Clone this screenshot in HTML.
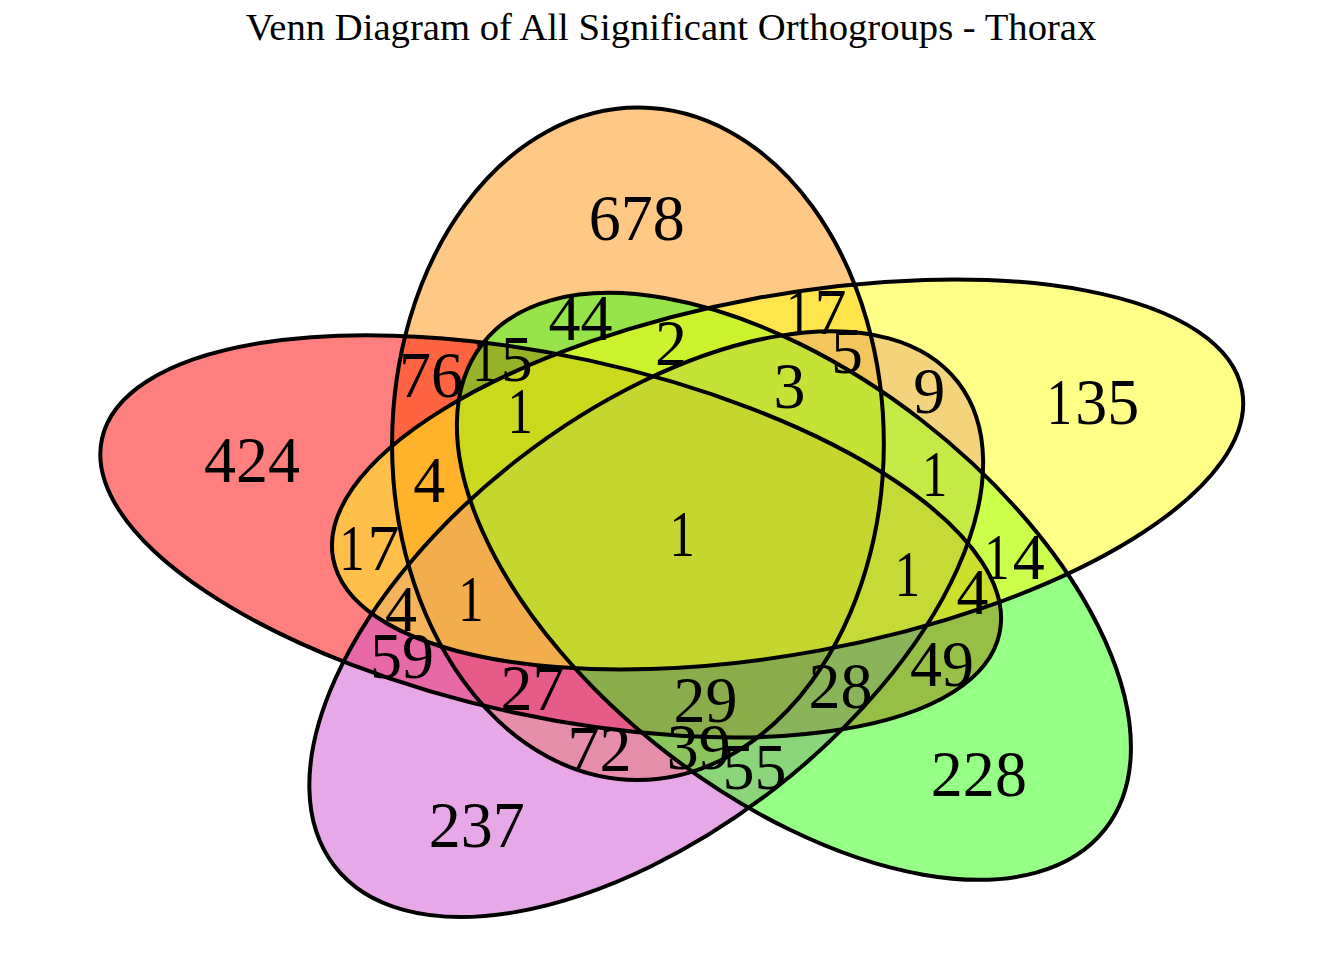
<!DOCTYPE html>
<html><head><meta charset="utf-8"><style>
html,body{margin:0;padding:0;background:#fff;}
svg{display:block;}
text{font-family:"Liberation Serif",serif;}
</style></head><body>
<svg width="1344" height="960" viewBox="0 0 1344 960">
<rect width="1344" height="960" fill="#fff"/>
<text x="671" y="40" font-size="38.67" text-anchor="middle">Venn Diagram of All Significant Orthogroups - Thorax</text>
<ellipse cx="637.95" cy="443.84" rx="336.22" ry="245.88" transform="rotate(90.136 637.95 443.84)" fill="#ff910b" fill-opacity="0.5" stroke="none"/>
<ellipse cx="550.69" cy="536.33" rx="459.19" ry="180.02" transform="rotate(12.240 550.69 536.33)" fill="#ff0000" fill-opacity="0.5" stroke="none"/>
<ellipse cx="646.24" cy="624.12" rx="394.59" ry="208.77" transform="rotate(-37.842 646.24 624.12)" fill="#cd51cd" fill-opacity="0.5" stroke="none"/>
<ellipse cx="793.90" cy="586.35" rx="394.74" ry="209.47" transform="rotate(37.893 793.90 586.35)" fill="#2dff0d" fill-opacity="0.5" stroke="none"/>
<ellipse cx="787.57" cy="474.42" rx="462.15" ry="178.96" transform="rotate(-10.468 787.57 474.42)" fill="#ffff11" fill-opacity="0.5" stroke="none"/>
<ellipse cx="637.95" cy="443.84" rx="336.22" ry="245.88" transform="rotate(90.136 637.95 443.84)" fill="none" stroke="#000" stroke-width="4"/>
<ellipse cx="550.69" cy="536.33" rx="459.19" ry="180.02" transform="rotate(12.240 550.69 536.33)" fill="none" stroke="#000" stroke-width="4"/>
<ellipse cx="646.24" cy="624.12" rx="394.59" ry="208.77" transform="rotate(-37.842 646.24 624.12)" fill="none" stroke="#000" stroke-width="4"/>
<ellipse cx="793.90" cy="586.35" rx="394.74" ry="209.47" transform="rotate(37.893 793.90 586.35)" fill="none" stroke="#000" stroke-width="4"/>
<ellipse cx="787.57" cy="474.42" rx="462.15" ry="178.96" transform="rotate(-10.468 787.57 474.42)" fill="none" stroke="#000" stroke-width="4"/>
<g font-size="64.0">
<text transform="translate(0 240.00) scale(1 1.025) translate(0 -240.00)" x="588.75" y="240.00">6</text><text transform="translate(0 240.00) scale(1 1.025) translate(0 -240.00)" x="620.75" y="240.00">7</text><text transform="translate(0 240.00) scale(1 1.025) translate(0 -240.00)" x="652.75" y="240.00">8</text>
<text transform="translate(1060.40 424.00) scale(0.79 1.025) translate(-1060.40 -424.00)" x="1043.25" y="424.00">1</text><text transform="translate(0 424.00) scale(1 1.025) translate(0 -424.00)" x="1075.25" y="424.00">3</text><text transform="translate(0 424.00) scale(1 1.025) translate(0 -424.00)" x="1107.25" y="424.00">5</text>
<text transform="translate(0 482.50) scale(1 1.025) translate(0 -482.50)" x="204.12" y="482.50">4</text><text transform="translate(0 482.50) scale(1 1.025) translate(0 -482.50)" x="236.12" y="482.50">2</text><text transform="translate(0 482.50) scale(1 1.025) translate(0 -482.50)" x="268.12" y="482.50">4</text>
<text transform="translate(0 796.50) scale(1 1.025) translate(0 -796.50)" x="930.88" y="796.50">2</text><text transform="translate(0 796.50) scale(1 1.025) translate(0 -796.50)" x="962.88" y="796.50">2</text><text transform="translate(0 796.50) scale(1 1.025) translate(0 -796.50)" x="994.88" y="796.50">8</text>
<text transform="translate(0 847.10) scale(1 1.025) translate(0 -847.10)" x="428.75" y="847.10">2</text><text transform="translate(0 847.10) scale(1 1.025) translate(0 -847.10)" x="460.75" y="847.10">3</text><text transform="translate(0 847.10) scale(1 1.025) translate(0 -847.10)" x="492.75" y="847.10">7</text>
<text transform="translate(0 340.00) scale(1 1.025) translate(0 -340.00)" x="548.62" y="340.00">4</text><text transform="translate(0 340.00) scale(1 1.025) translate(0 -340.00)" x="580.62" y="340.00">4</text>
<text transform="translate(799.65 334.00) scale(0.79 1.025) translate(-799.65 -334.00)" x="782.50" y="334.00">1</text><text transform="translate(0 334.00) scale(1 1.025) translate(0 -334.00)" x="814.50" y="334.00">7</text>
<text transform="translate(0 397.00) scale(1 1.025) translate(0 -397.00)" x="399.00" y="397.00">7</text><text transform="translate(0 397.00) scale(1 1.025) translate(0 -397.00)" x="431.00" y="397.00">6</text>
<text transform="translate(485.90 381.00) scale(0.79 1.025) translate(-485.90 -381.00)" x="468.75" y="381.00">1</text><text transform="translate(0 381.00) scale(1 1.025) translate(0 -381.00)" x="500.75" y="381.00">5</text>
<text transform="translate(0 365.50) scale(1 1.025) translate(0 -365.50)" x="654.95" y="365.50">2</text>
<text transform="translate(0 372.75) scale(1 1.025) translate(0 -372.75)" x="831.00" y="372.75">5</text>
<text transform="translate(0 413.00) scale(1 1.025) translate(0 -413.00)" x="913.25" y="413.00">9</text>
<text transform="translate(0 408.00) scale(1 1.025) translate(0 -408.00)" x="773.50" y="408.00">3</text>
<text transform="translate(521.15 432.80) scale(0.79 1.025) translate(-521.15 -432.80)" x="504.00" y="432.80">1</text>
<text transform="translate(0 501.60) scale(1 1.025) translate(0 -501.60)" x="413.23" y="501.60">4</text>
<text transform="translate(935.65 496.00) scale(0.79 1.025) translate(-935.65 -496.00)" x="918.50" y="496.00">1</text>
<text transform="translate(352.77 570.00) scale(0.79 1.025) translate(-352.77 -570.00)" x="335.62" y="570.00">1</text><text transform="translate(0 570.00) scale(1 1.025) translate(0 -570.00)" x="367.62" y="570.00">7</text>
<text transform="translate(683.10 555.90) scale(0.79 1.025) translate(-683.10 -555.90)" x="665.95" y="555.90">1</text>
<text transform="translate(997.90 578.75) scale(0.79 1.025) translate(-997.90 -578.75)" x="980.75" y="578.75">1</text><text transform="translate(0 578.75) scale(1 1.025) translate(0 -578.75)" x="1012.75" y="578.75">4</text>
<text transform="translate(908.27 596.25) scale(0.79 1.025) translate(-908.27 -596.25)" x="891.12" y="596.25">1</text>
<text transform="translate(0 613.75) scale(1 1.025) translate(0 -613.75)" x="956.50" y="613.75">4</text>
<text transform="translate(0 631.00) scale(1 1.025) translate(0 -631.00)" x="385.00" y="631.00">4</text>
<text transform="translate(471.90 621.00) scale(0.79 1.025) translate(-471.90 -621.00)" x="454.75" y="621.00">1</text>
<text transform="translate(0 678.00) scale(1 1.025) translate(0 -678.00)" x="370.00" y="678.00">5</text><text transform="translate(0 678.00) scale(1 1.025) translate(0 -678.00)" x="402.00" y="678.00">9</text>
<text transform="translate(0 710.00) scale(1 1.025) translate(0 -710.00)" x="500.50" y="710.00">2</text><text transform="translate(0 710.00) scale(1 1.025) translate(0 -710.00)" x="532.50" y="710.00">7</text>
<text transform="translate(0 722.50) scale(1 1.025) translate(0 -722.50)" x="673.50" y="722.50">2</text><text transform="translate(0 722.50) scale(1 1.025) translate(0 -722.50)" x="705.50" y="722.50">9</text>
<text transform="translate(0 708.00) scale(1 1.025) translate(0 -708.00)" x="808.50" y="708.00">2</text><text transform="translate(0 708.00) scale(1 1.025) translate(0 -708.00)" x="840.50" y="708.00">8</text>
<text transform="translate(0 686.50) scale(1 1.025) translate(0 -686.50)" x="909.92" y="686.50">4</text><text transform="translate(0 686.50) scale(1 1.025) translate(0 -686.50)" x="941.92" y="686.50">9</text>
<text transform="translate(0 771.00) scale(1 1.025) translate(0 -771.00)" x="567.50" y="771.00">7</text><text transform="translate(0 771.00) scale(1 1.025) translate(0 -771.00)" x="599.50" y="771.00">2</text>
<text transform="translate(0 769.00) scale(1 1.025) translate(0 -769.00)" x="666.75" y="769.00">3</text><text transform="translate(0 769.00) scale(1 1.025) translate(0 -769.00)" x="698.75" y="769.00">9</text>
<text transform="translate(0 789.00) scale(1 1.025) translate(0 -789.00)" x="722.50" y="789.00">5</text><text transform="translate(0 789.00) scale(1 1.025) translate(0 -789.00)" x="754.50" y="789.00">5</text>
</g>
</svg>
</body></html>
